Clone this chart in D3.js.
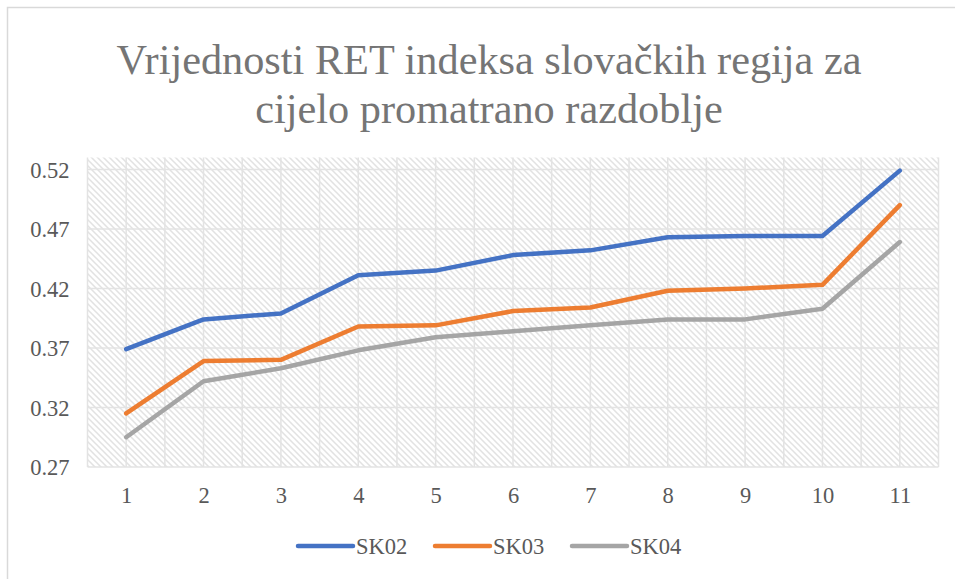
<!DOCTYPE html>
<html>
<head>
<meta charset="utf-8">
<script src="https://cdn.jsdelivr.net/npm/d3@7"></script>
<style>
  body { margin: 0; background: #fff; }
  svg { display: block; }
  svg text { font-family: "Liberation Serif", "Tinos", "Times New Roman", "DejaVu Serif", serif; }
</style>
</head>
<body>
<div id="chart"></div>
<script>
const titleLines = ["Vrijednosti RET indeksa slovačkih regija za", "cijelo promatrano razdoblje"];
const categories = ["1", "2", "3", "4", "5", "6", "7", "8", "9", "10", "11"];
const yTicks = [0.27, 0.32, 0.37, 0.42, 0.47, 0.52];
const seriesNames = ["SK02", "SK03", "SK04"];
const sk02 = [0.369, 0.394, 0.399, 0.431, 0.435, 0.448, 0.452, 0.463, 0.464, 0.464, 0.519];
const sk03 = [0.315, 0.359, 0.360, 0.388, 0.389, 0.401, 0.404, 0.418, 0.420, 0.423, 0.490];
const sk04 = [0.295, 0.342, 0.353, 0.368, 0.379, 0.384, 0.389, 0.394, 0.394, 0.403, 0.459];
const seriesColors = ["#4472C4", "#ED7D31", "#A5A5A5"];

const W = 955, H = 579;
const plot = {left: 87.5, right: 938.5, top: 157.5, bottom: 467};

const svg = d3.select("#chart").append("svg")
    .attr("width", W)
    .attr("height", H);

// hatch pattern for the plot area
const defs = svg.append("defs");
const pat = defs.append("pattern")
    .attr("id", "hatch")
    .attr("patternUnits", "userSpaceOnUse")
    .attr("width", 6)
    .attr("height", 6);
pat.append("rect").attr("width", 6).attr("height", 6).attr("fill", "#fff");
pat.append("path")
    .attr("d", "M-1,-1 L7,7 M-7,-1 L1,7 M5,-1 L13,7")
    .attr("stroke", "#e2e2e2")
    .attr("stroke-width", 1.5);

// chart frame (right and bottom edges sit outside the window)
svg.append("rect")
    .attr("x", 7.5).attr("y", 7.5)
    .attr("width", W).attr("height", H)
    .attr("fill", "none")
    .attr("stroke", "#d9d9d9")
    .attr("stroke-width", 1.5);

// title
svg.append("text")
    .attr("text-anchor", "middle")
    .style("font-size", "42.3px")
    .attr("fill", "#757575")
    .selectAll("tspan")
    .data(titleLines)
    .join("tspan")
    .attr("x", 489)
    .attr("y", (d, i) => 74 + i * 49)
    .text(d => d);

const x = d3.scalePoint()
    .domain(categories)
    .range([plot.left, plot.right])
    .padding(0.5);
const step = x.step();

const y = d3.scaleLinear()
    .domain([0.27, 0.53])
    .range([plot.bottom, plot.top]);

svg.append("rect")
    .attr("x", plot.left).attr("y", plot.top)
    .attr("width", plot.right - plot.left)
    .attr("height", plot.bottom - plot.top)
    .attr("fill", "url(#hatch)");

// vertical gridlines at every category and every band boundary
const vLines = [];
categories.forEach(c => {
    vLines.push(x(c) - step / 2);
    vLines.push(x(c));
});
vLines.push(x(categories[categories.length - 1]) + step / 2);

const grid = svg.append("g").attr("stroke", "#e3e3e3").attr("stroke-width", 1.5);
grid.selectAll(".vg").data(vLines).join("line")
    .attr("class", "vg")
    .attr("x1", d => d).attr("x2", d => d)
    .attr("y1", plot.top).attr("y2", plot.bottom);
grid.selectAll(".hg").data(yTicks).join("line")
    .attr("class", "hg")
    .attr("x1", plot.left).attr("x2", plot.right)
    .attr("y1", d => y(d)).attr("y2", d => y(d));

// axes
const yAxis = svg.append("g")
    .attr("transform", `translate(${plot.left},0)`)
    .call(d3.axisLeft(y).tickValues(yTicks).tickFormat(d3.format(".2f")).tickSize(0).tickPadding(18));
const xAxis = svg.append("g")
    .attr("transform", `translate(0,${plot.bottom})`)
    .call(d3.axisBottom(x).tickSize(0).tickPadding(20));
[xAxis, yAxis].forEach(a => {
    a.attr("font-family", null).attr("font-size", null);
    a.select(".domain").remove();
    a.selectAll("text")
        .style("font-size", "22.5px")
        .attr("fill", "#595959");
});
yAxis.selectAll("text").attr("dy", "0.35em");

// lines
const allSeries = [sk02, sk03, sk04];
const line = d3.line()
    .x((d, i) => x(categories[i]))
    .y(d => y(d));
svg.append("g").selectAll("path")
    .data(allSeries)
    .join("path")
    .attr("d", d => line(d))
    .attr("fill", "none")
    .attr("stroke", (d, i) => seriesColors[i])
    .attr("stroke-width", 4.5)
    .attr("stroke-linecap", "round")
    .attr("stroke-linejoin", "round");

// legend
const legendX = [298, 435, 572];
const lg = svg.append("g").selectAll("g")
    .data(seriesNames)
    .join("g")
    .attr("transform", (d, i) => `translate(${legendX[i]},546)`);
lg.append("line")
    .attr("x1", 0).attr("x2", 55)
    .attr("stroke", (d, i) => seriesColors[i])
    .attr("stroke-width", 4.5)
    .attr("stroke-linecap", "round");
lg.append("text")
    .attr("x", 58)
    .attr("dy", "0.35em")
    .style("font-size", "22.5px")
    .attr("fill", "#595959")
    .text(d => d);
</script>
</body>
</html>
